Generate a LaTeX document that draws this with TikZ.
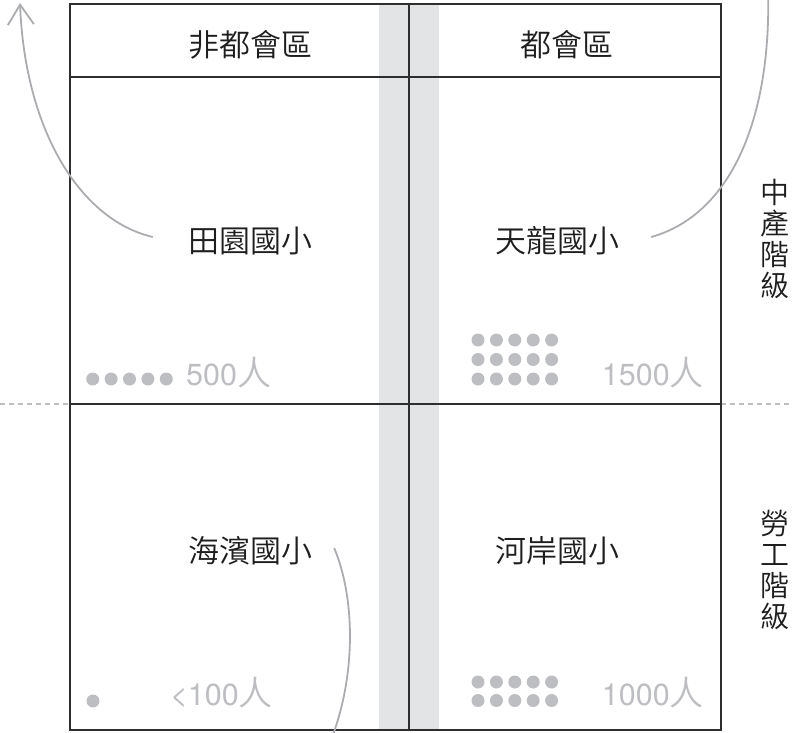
\documentclass[tikz,border=0pt]{standalone}
\usepackage{fontspec}
\setmainfont{Noto Sans CJK TC}[UprightFont={* DemiLight}]
\newfontfamily\numfont{TeX Gyre Heros}
\usetikzlibrary{arrows.meta}
\definecolor{boxline}{HTML}{2E2E2E}
\definecolor{band}{HTML}{E3E4E6}
\definecolor{dotgray}{HTML}{BDBEC2}
\definecolor{curvegray}{HTML}{ABACAF}
\definecolor{txt}{HTML}{1E1E1E}
\tikzset{
  frameline/.style={draw=boxline, line width=1.8pt},
  school/.style={font=\fontsize{31}{31}\selectfont, text=txt, inner sep=0pt},
  header/.style={font=\fontsize{31}{31}\selectfont, text=txt, inner sep=0pt},
  count/.style={font=\fontsize{34}{34}\selectfont, text=dotgray, inner sep=0pt},
  side/.style={font=\fontsize{29}{31}\selectfont, text=txt, inner sep=0pt, align=center},
  pdot/.style={circle, fill=dotgray, minimum size=13pt, inner sep=0pt},
  flow/.style={draw=curvegray, line width=1.8pt},
  divider/.style={draw=dotgray, line width=1.8pt, dash pattern=on 5pt off 4pt},
}
\newcommand{\numtxt}[1]{{\numfont\fontsize{30.5}{30.5}\selectfont #1}}
\begin{document}
\begin{tikzpicture}[x=1pt, y=-1pt]
\useasboundingbox (0,0) rectangle (793,732);
% gray band
\fill[band] (379,4) rectangle (439,730);
% dashed dividers outside the box
\coordinate (dl0) at (0,404);
\coordinate (dl1) at (70,404);
\coordinate (dr0) at (721,404);
\coordinate (dr1) at (793,404);
\draw[divider] (dl0) -- (dl1);
\draw[divider] (dr0) -- (dr1);
% frame
\coordinate (tl) at (70,4);
\coordinate (br) at (721,730);
\draw[frameline] (tl) rectangle (br);
\coordinate (h0) at (70,77);
\coordinate (h1) at (721,77);
\draw[frameline] (h0) -- (h1);
\coordinate (m0) at (70,404);
\coordinate (m1) at (721,404);
\draw[frameline] (m0) -- (m1);
\coordinate (v0) at (409,4);
\coordinate (v1) at (409,730);
\draw[frameline] (v0) -- (v1);
% headers
\node[header] (hnon) at (250,45) {非都會區};
\node[header] (hmet) at (567,45) {都會區};
% schools
\node[school] (tianyuan) at (250,241) {田園國小};
\node[school] (tianlong) at (557,241) {天龍國小};
\node[school] (haibin) at (250,551) {海濱國小};
\node[school] (hean) at (557,551) {河岸國小};
% side labels
\node[side] (mid) at (775,239) {中\\產\\階\\級};
\node[side] (lab) at (775,570) {勞\\工\\階\\級};
% counts
\node[count, anchor=west] (c500) at (186,373) {\numtxt{500}人};
\node[count, anchor=east] (c1500) at (704,373) {\numtxt{1500}人};
\node[count, anchor=east] (c100) at (273,693) {\numtxt{<100}人};
\node[count, anchor=east] (c1000) at (704,693) {\numtxt{1000}人};
% dots
\foreach \i in {0,...,4} {
  \node[pdot] (a\i) at (92.7+18.4*\i,379) {};
  \foreach \j in {0,1,2} {
    \node[pdot] (b\i\j) at (478+18.4*\i,340+19.5*\j) {};
  }
  \foreach \j in {0,1} {
    \node[pdot] (d\i\j) at (478+18.4*\i,682+18.5*\j) {};
  }
}
\node[pdot] (e0) at (93,701) {};
% curves
\coordinate (up1) at (20,3);
\coordinate (up2) at (768,-12);
\coordinate (down1) at (329,745);
\draw[flow, -{Straight Barb[length=20pt, width=26pt, line width=1.8pt]}]
  ([xshift=-35pt, yshift=4pt]tianyuan.west) .. controls (80,220) and (25,130) .. (up1);
\draw[flow]
  ([xshift=32pt, yshift=4pt]tianlong.east) .. controls (730,215) and (772,120) .. (up2);
\draw[flow]
  ([xshift=22pt, yshift=3pt]haibin.east) .. controls (356,600) and (356,680) .. (down1);
\end{tikzpicture}
\end{document}
